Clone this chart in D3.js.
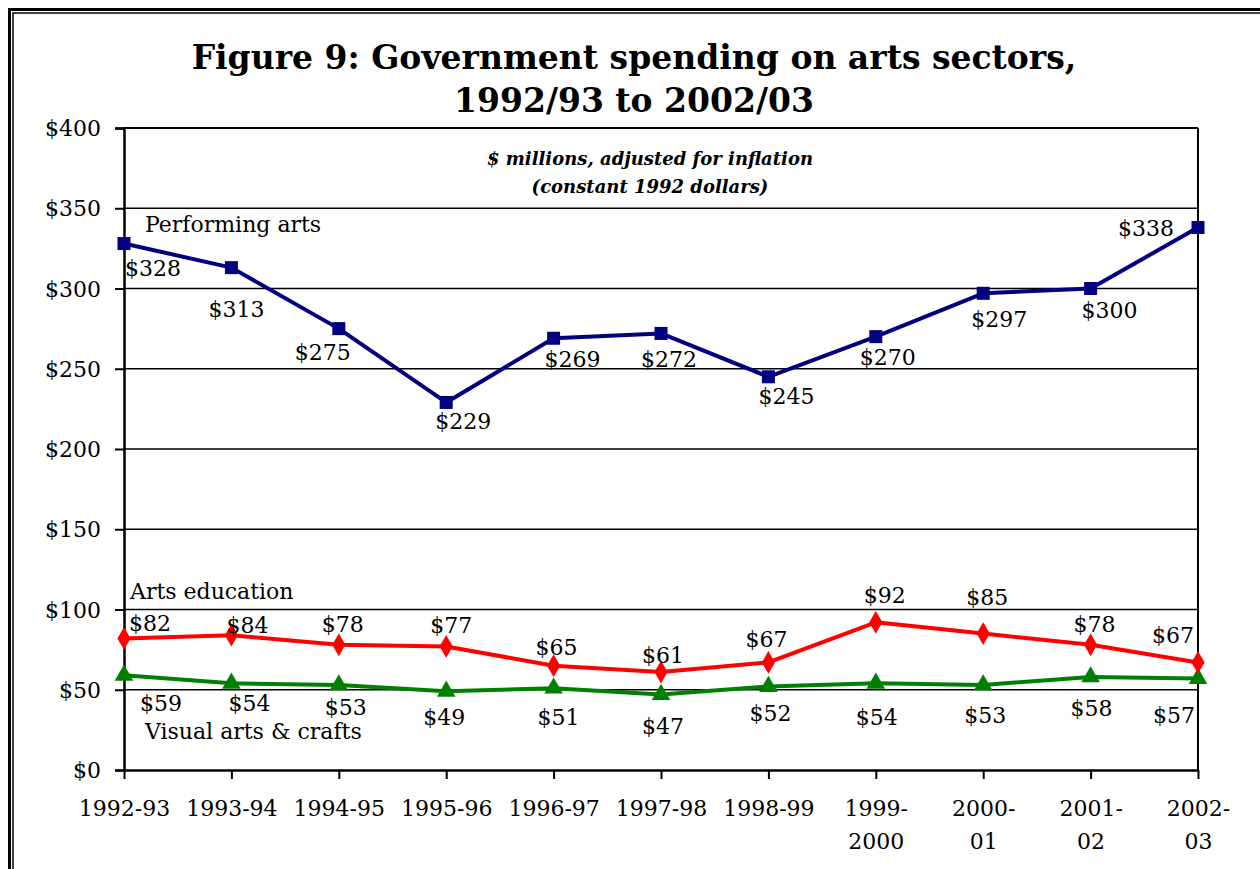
<!DOCTYPE html>
<html>
<head>
<meta charset="utf-8">
<script src="https://cdn.jsdelivr.net/npm/d3@7"></script>
<style>
  html, body { margin: 0; padding: 0; background: #fff; }
  svg { display: block; }
  text { font-family: "DejaVu Serif", serif; fill: #000; }
</style>
</head>
<body>
<svg id="chart" width="1260" height="869"></svg>
<script>
// Fiscal years on the category axis (second line used where the label wraps)
const years = ["1992-93", "1993-94", "1994-95", "1995-96", "1996-97", "1997-98",
               "1998-99", "1999-2000", "2000-01", "2001-02", "2002-03"];
const yearLines = [["1992-93"], ["1993-94"], ["1994-95"], ["1995-96"], ["1996-97"],
                   ["1997-98"], ["1998-99"], ["1999-", "2000"], ["2000-", "01"],
                   ["2001-", "02"], ["2002-", "03"]];

// $ millions, constant 1992 dollars
const performingArts = [328, 313, 275, 229, 269, 272, 245, 270, 297, 300, 338];
const artsEducation  = [82, 84, 78, 77, 65, 61, 67, 92, 85, 78, 67];
const visualArts     = [59, 54, 53, 49, 51, 47, 52, 54, 53, 58, 57];

const yTicks = [0, 50, 100, 150, 200, 250, 300, 350, 400];

// Per-point nudges for the value labels (dx, dy from the marker to the label centre)
const paNudge = [[29, 25], [5, 42], [-16, 24], [17, 19], [19, 21], [8, 26],
                 [18, 20], [12, 21], [16, 26], [19, 22], [-52, 1]];
const aeNudge = [[26, -15], [16, -10], [4, -21], [5, -21], [3, -18], [2, -17],
                 [-2, -23], [9, -27], [4, -36], [4, -21], [-25, -27]];
const vaNudge = [[37, 28], [18, 20], [7, 22], [-2, 26], [5, 29], [2, 32],
                 [2, 27], [1, 34], [2, 30], [1, 31], [-24, 37]];

const svg = d3.select("#chart");

// Double frame around the figure
svg.append("rect").attr("x", 9.5).attr("y", 9.5).attr("width", 1300).attr("height", 900)
  .attr("fill", "none").attr("stroke", "#000").attr("stroke-width", 3);
svg.append("rect").attr("x", 13).attr("y", 13).attr("width", 1300).attr("height", 900)
  .attr("fill", "none").attr("stroke", "#000").attr("stroke-width", 1.5);

// Title
const title = svg.append("text").attr("text-anchor", "middle")
  .style("font-weight", "bold").style("font-size", "33px");
title.append("tspan").attr("x", 634).attr("y", 69).text("Figure 9: Government spending on arts sectors,");
title.append("tspan").attr("x", 634).attr("y", 112).text("1992/93 to 2002/03");

const plot = { left: 124, top: 128, right: 1198, bottom: 770 };

const x = d3.scalePoint().domain(years).range([plot.left, plot.right]);
const y = d3.scaleLinear().domain([0, 400]).range([plot.bottom, plot.top]);

// Gridlines
svg.append("g").selectAll("line").data(yTicks.filter(d => d > 0))
  .join("line")
  .attr("x1", plot.left).attr("x2", plot.right)
  .attr("y1", d => y(d)).attr("y2", d => y(d))
  .attr("stroke", "#000").attr("stroke-width", d => d === 400 ? 2 : 1.5);

// Right edge of plot area
svg.append("line").attr("x1", plot.right).attr("x2", plot.right)
  .attr("y1", plot.top).attr("y2", plot.bottom)
  .attr("stroke", "#000").attr("stroke-width", 2);

// Y axis
const yAxis = svg.append("g").attr("transform", `translate(${plot.left},0)`)
  .call(d3.axisLeft(y).tickValues(yTicks).tickSize(9).tickPadding(14)
        .tickFormat(d => "$" + d));
yAxis.select(".domain").attr("stroke", "#000").attr("stroke-width", 2.5);
yAxis.selectAll(".tick line").attr("stroke", "#000").attr("stroke-width", 2);
yAxis.selectAll(".tick text").style("font-size", "22px")
  .style("font-family", "DejaVu Serif, serif").attr("fill", "#000").attr("dy", "0.35em");

// X axis
const xAxis = svg.append("g").attr("transform", `translate(0,${plot.bottom})`)
  .call(d3.axisBottom(x).tickSize(9).tickSizeOuter(0).tickFormat(""));
xAxis.select(".domain").attr("stroke", "#000").attr("stroke-width", 2.5);
xAxis.selectAll(".tick line").attr("stroke", "#000").attr("stroke-width", 2);
xAxis.selectAll(".tick").each(function(d, i) {
  const t = d3.select(this).append("text").attr("text-anchor", "middle")
    .style("font-size", "22px").style("font-family", "DejaVu Serif, serif").attr("fill", "#000");
  yearLines[i].forEach((s, k) => {
    t.append("tspan").attr("x", 0).attr("y", 46 + k * 33).text(s);
  });
});

// Subtitle
const sub = svg.append("text").attr("text-anchor", "middle")
  .style("font-weight", "bold").style("font-style", "italic").style("font-size", "18px");
sub.append("tspan").attr("x", 650).attr("y", 165).text("$ millions, adjusted for inflation");
sub.append("tspan").attr("x", 650).attr("y", 193).text("(constant 1992 dollars)");

const line = d3.line().x((d, i) => x(years[i])).y(d => y(d));

function drawSeries(values, color, symbol, size, nudge) {
  svg.append("path").datum(values).attr("d", line)
    .attr("fill", "none").attr("stroke", color).attr("stroke-width", 4)
    .attr("stroke-linejoin", "round");
  svg.append("g").selectAll("path").data(values).join("path")
    .attr("transform", (d, i) => `translate(${x(years[i])},${y(d)})`)
    .attr("d", d3.symbol().type(symbol).size(size))
    .attr("fill", color);
  svg.append("g").selectAll("text").data(values).join("text")
    .attr("x", (d, i) => x(years[i]) + nudge[i][0])
    .attr("y", (d, i) => y(d) + nudge[i][1])
    .attr("dy", "0.35em").attr("text-anchor", "middle")
    .style("font-size", "22px").text(d => "$" + d);
}

drawSeries(visualArts, "#008000", d3.symbolTriangle, 150, vaNudge);
drawSeries(artsEducation, "#ff0000", d3.symbolDiamond, 150, aeNudge);
drawSeries(performingArts, "#000080", d3.symbolSquare, 169, paNudge);

// Series names
svg.append("text").attr("x", 145).attr("y", 232).style("font-size", "22px").text("Performing arts");
svg.append("text").attr("x", 130).attr("y", 599).style("font-size", "22px").text("Arts education");
svg.append("text").attr("x", 145).attr("y", 739).style("font-size", "22px").text("Visual arts & crafts");
</script>
</body>
</html>
